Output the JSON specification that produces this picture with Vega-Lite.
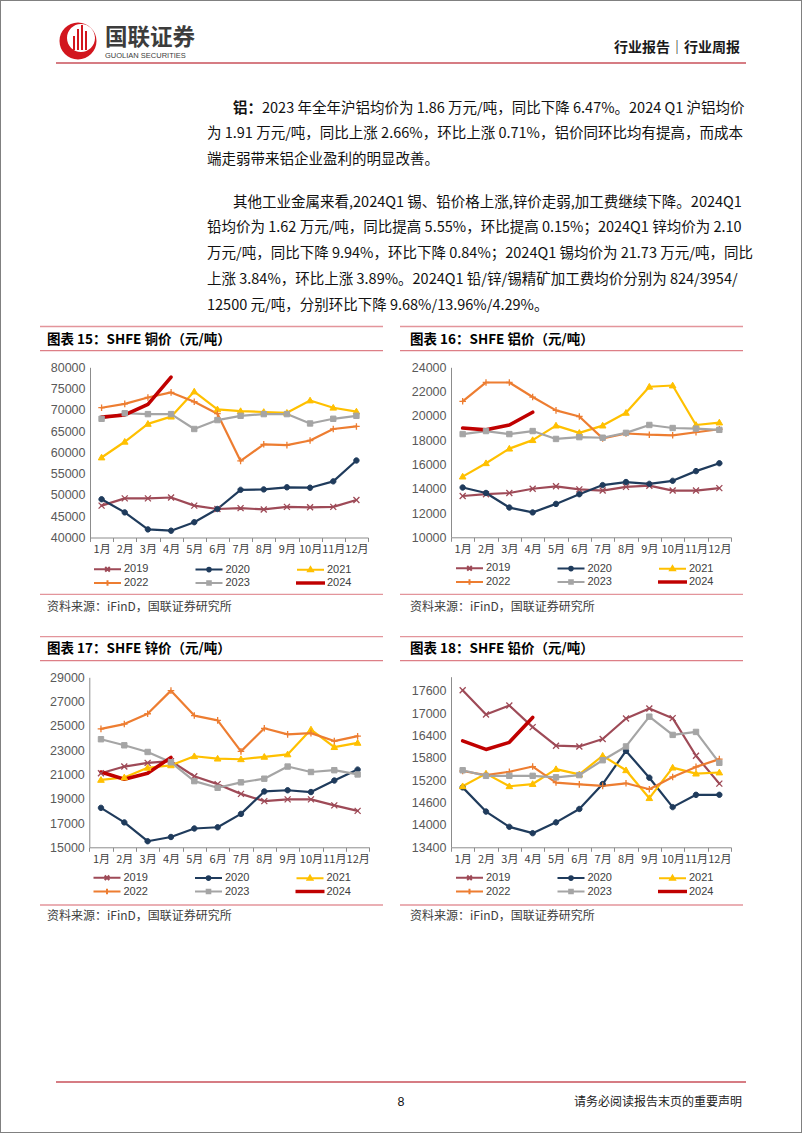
{
"$schema": "https://vega.github.io/schema/vega-lite/v6.json",
"width": 802, "height": 1133, "autosize": {"type": "none"}, "padding": 0,
"background": "white",
"config": {
 "view": {"stroke": "#808080", "strokeWidth": 2},
 "axis": {"grid": false},
 "legend": {"orient":"none","direction":"horizontal","columns":3,"gridAlign":"all","symbolSize":144,"symbolStrokeWidth":2,"symbolFillColor":"transparent","symbolStrokeColor":"transparent","labelFont":"Liberation Sans","labelFontSize":11,"labelColor":"#404040","labelOffset":9.5,"columnPadding":42.5,"rowPadding":-16,"padding":0}
},
"datasets": {
"prices": [
{"metal":"cu","m":"1月","2019":47500,"2020":49000,"2021":58800,"2022":70500,"2023":67900,"2024":68300},
{"metal":"cu","m":"2月","2019":49200,"2020":45900,"2021":62500,"2022":71400,"2023":69200,"2024":68800},
{"metal":"cu","m":"3月","2019":49200,"2020":41900,"2021":66700,"2022":72900,"2023":69000,"2024":71300},
{"metal":"cu","m":"4月","2019":49400,"2020":41600,"2021":68400,"2022":74100,"2023":69000,"2024":77700},
{"metal":"cu","m":"5月","2019":47500,"2020":43600,"2021":74300,"2022":71900,"2023":65500},
{"metal":"cu","m":"6月","2019":46700,"2020":46700,"2021":70100,"2022":69100,"2023":67600},
{"metal":"cu","m":"7月","2019":46900,"2020":51200,"2021":69700,"2022":58000,"2023":68600},
{"metal":"cu","m":"8月","2019":46600,"2020":51300,"2021":69500,"2022":61900,"2023":69000},
{"metal":"cu","m":"9月","2019":47200,"2020":51800,"2021":69300,"2022":61700,"2023":69000},
{"metal":"cu","m":"10月","2019":47100,"2020":51700,"2021":72200,"2022":62800,"2023":66800},
{"metal":"cu","m":"11月","2019":47200,"2020":53200,"2021":70500,"2022":65500,"2023":67900},
{"metal":"cu","m":"12月","2019":48800,"2020":58100,"2021":69600,"2022":66100,"2023":68600},
{"metal":"al","m":"1月","2019":13400,"2020":14100,"2021":15000,"2022":21200,"2023":18500,"2024":19000},
{"metal":"al","m":"2月","2019":13550,"2020":13650,"2021":16100,"2022":22750,"2023":18750,"2024":18850},
{"metal":"al","m":"3月","2019":13650,"2020":12450,"2021":17300,"2022":22750,"2023":18500,"2024":19250},
{"metal":"al","m":"4月","2019":14000,"2020":12050,"2021":18000,"2022":21550,"2023":18750,"2024":20300},
{"metal":"al","m":"5月","2019":14200,"2020":12750,"2021":19200,"2022":20450,"2023":18100},
{"metal":"al","m":"6月","2019":13950,"2020":13550,"2021":18600,"2022":19950,"2023":18250},
{"metal":"al","m":"7月","2019":13850,"2020":14300,"2021":19200,"2022":18150,"2023":18200},
{"metal":"al","m":"8月","2019":14150,"2020":14550,"2021":20250,"2022":18550,"2023":18600},
{"metal":"al","m":"9月","2019":14250,"2020":14400,"2021":22400,"2022":18450,"2023":19250},
{"metal":"al","m":"10月","2019":13850,"2020":14650,"2021":22500,"2022":18400,"2023":19000},
{"metal":"al","m":"11月","2019":13850,"2020":15450,"2021":19250,"2022":18650,"2023":18950},
{"metal":"al","m":"12月","2019":14050,"2020":16100,"2021":19450,"2022":18900,"2023":18850},
{"metal":"zn","m":"1月","2019":21100,"2020":18250,"2021":20550,"2022":24750,"2023":23900,"2024":21200},
{"metal":"zn","m":"2月","2019":21650,"2020":17050,"2021":20750,"2022":25150,"2023":23400,"2024":20600},
{"metal":"zn","m":"3月","2019":21950,"2020":15500,"2021":21550,"2022":26000,"2023":22850,"2024":21100},
{"metal":"zn","m":"4月","2019":22100,"2020":15850,"2021":21750,"2022":27900,"2023":22000,"2024":22400},
{"metal":"zn","m":"5月","2019":20850,"2020":16550,"2021":22500,"2022":25850,"2023":20450},
{"metal":"zn","m":"6月","2019":20200,"2020":16650,"2021":22300,"2022":25450,"2023":19900},
{"metal":"zn","m":"7月","2019":19400,"2020":17750,"2021":22250,"2022":22900,"2023":20350},
{"metal":"zn","m":"8月","2019":18800,"2020":19600,"2021":22450,"2022":24800,"2023":20650},
{"metal":"zn","m":"9月","2019":18950,"2020":19700,"2021":22650,"2022":24300,"2023":21650},
{"metal":"zn","m":"10月","2019":18950,"2020":19550,"2021":24700,"2022":24400,"2023":21200},
{"metal":"zn","m":"11月","2019":18450,"2020":20500,"2021":23250,"2022":23750,"2023":21350},
{"metal":"zn","m":"12月","2019":18000,"2020":21400,"2021":23600,"2022":24150,"2023":21000},
{"metal":"pb","m":"1月","2019":17620,"2020":15010,"2021":15040,"2022":15450,"2023":15470,"2024":16260},
{"metal":"pb","m":"2月","2019":16970,"2020":14360,"2021":15380,"2022":15340,"2023":15320,"2024":16030},
{"metal":"pb","m":"3月","2019":17210,"2020":13950,"2021":15040,"2022":15430,"2023":15320,"2024":16220},
{"metal":"pb","m":"4月","2019":16630,"2020":13780,"2021":15100,"2022":15570,"2023":15320,"2024":16890},
{"metal":"pb","m":"5月","2019":16130,"2020":14070,"2021":15500,"2022":15140,"2023":15280},
{"metal":"pb","m":"6月","2019":16110,"2020":14430,"2021":15360,"2022":15090,"2023":15340},
{"metal":"pb","m":"7月","2019":16310,"2020":15100,"2021":15860,"2022":15050,"2023":15740},
{"metal":"pb","m":"8月","2019":16860,"2020":15990,"2021":15470,"2022":15120,"2023":16110},
{"metal":"pb","m":"9月","2019":17130,"2020":15270,"2021":14720,"2022":14960,"2023":16910},
{"metal":"pb","m":"10月","2019":16870,"2020":14480,"2021":15540,"2022":15290,"2023":16420},
{"metal":"pb","m":"11月","2019":15860,"2020":14810,"2021":15380,"2022":15560,"2023":16500},
{"metal":"pb","m":"12月","2019":15110,"2020":14810,"2021":15410,"2022":15770,"2023":15670}
],
"panels": [
{"c":"L","r":"T","title":"图表 15：SHFE 铜价（元/吨）","src":"资料来源：iFinD，国联证券研究所"},
{"c":"R","r":"T","title":"图表 16：SHFE 铝价（元/吨）","src":"资料来源：iFinD，国联证券研究所"},
{"c":"L","r":"B","title":"图表 17：SHFE 锌价（元/吨）","src":"资料来源：iFinD，国联证券研究所"},
{"c":"R","r":"B","title":"图表 18：SHFE 铅价（元/吨）","src":"资料来源：iFinD，国联证券研究所"}
]
},
"layer": [
{
 "data": {"values": [{"zone":"head"},{"zone":"foot"}]},
 "mark": {"type":"rule","stroke":"#C8505A","strokeWidth":1.6},
 "encoding": {
  "x": {"datum":"L","type":"nominal","scale":{"type":"point","domain":["L","R"],"range":[56,746],"padding":0},"axis":null},
  "x2": {"datum":"R"},
  "y": {"field":"zone","type":"nominal","scale":{"type":"point","domain":["head","foot"],"range":[63,1082],"padding":0},"axis":null}
 }
},
{
 "data": {"values": [
  {"zone":"head","side":"L","role":"logo"},
  {"zone":"head","side":"L","role":"brand","text":"国联证券"},
  {"zone":"head","side":"L","role":"brand_en","text":"GUOLIAN SECURITIES"},
  {"zone":"head","side":"R","role":"kind","text":"行业报告｜行业周报"},
  {"zone":"foot","side":"C","role":"pageno","text":"8"},
  {"zone":"foot","side":"R","role":"note","text":"请务必阅读报告末页的重要声明"}
 ]},
 "encoding": {
  "x": {"field":"side","type":"nominal","scale":{"type":"point","domain":["L","C","R"],"range":[56,746],"padding":0},"axis":null},
  "y": {"field":"zone","type":"nominal","scale":{"type":"point","domain":["head","foot"],"range":[48,1102],"padding":0},"axis":null}
 },
 "layer": [
  {"transform":[{"filter":"datum.role == 'logo'"}],
   "mark":{"type":"point","filled":true,"size":4,"opacity":1,"fill":"#D2161E","strokeWidth":0,
   "shape":"M3.5,-7A18.5,18.5 0 1,0 40.5,-7A18.5,18.5 0 1,0 3.5,-7ZM11,-10A14,14 0 1,1 39,-10A14,14 0 1,1 11,-10Z"}},
  {"transform":[{"filter":"datum.role == 'logo'"}],
   "mark":{"type":"point","filled":true,"size":4,"opacity":1,"fill":"#D2161E","strokeWidth":0,
   "shape":"M17,2H19V-12H17ZM21,2H23V-19H21ZM25,2H27V-23H25ZM29,2H31V-17H29Z"}},
  {"transform":[{"filter":"datum.role == 'brand'"}],
   "mark":{"type":"text","align":"left","baseline":"middle","dx":49,"dy":-10,"font":"Noto Sans CJK SC","fontWeight":"bold","fontSize":22.5,"fill":"#3C3C3C"},
   "encoding":{"text":{"field":"text"}}},
  {"transform":[{"filter":"datum.role == 'brand_en'"}],
   "mark":{"type":"text","align":"left","baseline":"middle","dx":49,"dy":7.5,"font":"Liberation Sans","fontSize":7.5,"fill":"#3C3C3C"},
   "encoding":{"text":{"field":"text"}}},
  {"transform":[{"filter":"datum.role == 'kind'"}],
   "mark":{"type":"text","align":"right","baseline":"middle","dx":-6,"font":"Noto Sans CJK SC","fontWeight":"bold","fontSize":14,"fill":"#1A1A1A"},
   "encoding":{"text":{"field":"text"}}},
  {"transform":[{"filter":"datum.role == 'pageno'"}],
   "mark":{"type":"text","align":"center","baseline":"middle","font":"Liberation Sans","fontSize":12.5,"fill":"#111111"},
   "encoding":{"text":{"field":"text"}}},
  {"transform":[{"filter":"datum.role == 'note'"}],
   "mark":{"type":"text","align":"right","baseline":"middle","dx":-4,"font":"Noto Sans CJK SC","fontSize":12,"fill":"#222222"},
   "encoding":{"text":{"field":"text"}}}
 ]
},
{
 "data": {"values": [
  {"para":1,"role":"lead","text":"铝："},
  {"para":1,"role":"after","text":"2023 年全年沪铝均价为 1.86 万元/吨，同比下降 6.47%。2024 Q1 沪铝均价"},
  {"para":1,"role":"body","text":["为 1.91 万元/吨，同比上涨 2.66%，环比上涨 0.71%，铝价同环比均有提高，而成本","端走弱带来铝企业盈利的明显改善。"]},
  {"para":2,"role":"first","text":"其他工业金属来看,2024Q1 锡、铅价格上涨,锌价走弱,加工费继续下降。2024Q1"},
  {"para":2,"role":"body","text":["铅均价为 1.62 万元/吨，同比提高 5.55%，环比提高 0.15%；2024Q1 锌均价为 2.10","万元/吨，同比下降 9.94%，环比下降 0.84%；2024Q1 锡均价为 21.73 万元/吨，同比","上涨 3.84%，环比上涨 3.89%。2024Q1 铅/锌/锡精矿加工费均价分别为 824/3954/","12500 元/吨，分别环比下降 9.68%/13.96%/4.29%。"]}
 ]},
 "encoding": {
  "x": {"datum":"L","type":"nominal","scale":{"type":"point","domain":["L","R"],"range":[207,745],"padding":0},"axis":null},
  "y": {"field":"para","type":"quantitative","scale":{"domain":[1,2],"range":[101.5,195.5],"nice":false,"zero":false},"axis":null},
  "text": {"field":"text"}
 },
 "layer": [
  {"transform":[{"filter":"datum.role == 'lead'"}],
   "mark":{"type":"text","align":"left","baseline":"top","dx":26,"font":"Noto Sans CJK SC","fontWeight":"bold","fontSize":14.5,"fill":"#111111"}},
  {"transform":[{"filter":"datum.role == 'after'"}],
   "mark":{"type":"text","align":"left","baseline":"top","dx":55,"font":"Noto Sans CJK SC","fontSize":14.5,"fill":"#111111"}},
  {"transform":[{"filter":"datum.role == 'first'"}],
   "mark":{"type":"text","align":"left","baseline":"top","dx":26,"font":"Noto Sans CJK SC","fontSize":14.5,"fill":"#111111"}},
  {"transform":[{"filter":"datum.role == 'body'"}],
   "mark":{"type":"text","align":"left","baseline":"top","dy":25.8,"lineHeight":25.8,"font":"Noto Sans CJK SC","fontSize":14.5,"fill":"#111111"}}
 ]
},
{
 "data": {"name":"panels"},
 "mark": {"type":"text","align":"left","baseline":"middle","font":"Noto Sans CJK SC","fontWeight":"bold","fontSize":13.5,"fill":"#000000"},
 "encoding": {
  "x": {"field":"c","type":"nominal","scale":{"type":"point","domain":["L","R"],"range":[47,410],"padding":0},"axis":null},
  "y": {"field":"r","type":"nominal","scale":{"type":"point","domain":["T","B"],"range":[340,649.3],"padding":0},"axis":null},
  "text": {"field":"title"}
 }
},
{
 "data": {"name":"panels"},
 "mark": {"type":"text","align":"left","baseline":"middle","font":"Noto Sans CJK SC","fontSize":12,"fill":"#404040"},
 "encoding": {
  "x": {"field":"c","type":"nominal","scale":{"type":"point","domain":["L","R"],"range":[47,410],"padding":0},"axis":null},
  "y": {"field":"r","type":"nominal","scale":{"type":"point","domain":["T","B"],"range":[607,916],"padding":0},"axis":null},
  "text": {"field":"src"}
 }
},
{
 "data": {"name":"panels"},
 "mark": {"type":"rule","stroke":"#E3959B","strokeWidth":1.3,"x2Offset":343},
 "encoding": {
  "x": {"field":"c","type":"nominal","scale":{"type":"point","domain":["L","R"],"range":[40,400],"padding":0},"axis":null},
  "x2": {"field":"c"},
  "y": {"field":"r","type":"nominal","scale":{"type":"point","domain":["T","B"],"range":[326.5,636.7],"padding":0},"axis":null}
 }
},
{
 "data": {"name":"panels"},
 "mark": {"type":"rule","stroke":"#DD7F87","strokeWidth":1.3,"x2Offset":343},
 "encoding": {
  "x": {"field":"c","type":"nominal","scale":{"type":"point","domain":["L","R"],"range":[40,400],"padding":0},"axis":null},
  "x2": {"field":"c"},
  "y": {"field":"r","type":"nominal","scale":{"type":"point","domain":["T","B"],"range":[350.7,660.7],"padding":0},"axis":null}
 }
},
{
 "data": {"name":"panels"},
 "mark": {"type":"rule","stroke":"#E3959B","strokeWidth":1.3,"x2Offset":343},
 "encoding": {
  "x": {"field":"c","type":"nominal","scale":{"type":"point","domain":["L","R"],"range":[40,400],"padding":0},"axis":null},
  "x2": {"field":"c"},
  "y": {"field":"r","type":"nominal","scale":{"type":"point","domain":["T","B"],"range":[594.3,905],"padding":0},"axis":null}
 }
},
{
 "data": {"name":"prices"},
 "transform": [{"filter":"datum.metal == 'cu'"},{"fold":["2019","2020","2021","2022","2023","2024"],"as":["year","v"]},{"filter":"isValid(datum.v)"}],
 "encoding": {
  "x": {"field":"m","type":"ordinal","sort":null,"scale":{"type":"band","domain":["1月","2月","3月","4月","5月","6月","7月","8月","9月","10月","11月","12月"],"range":[90,368],"paddingInner":0,"paddingOuter":0},
   "axis":{"orient":"bottom","offset":-595.5,"title":null,"labelAngle":0,"tickBand":"extent","tickSize":4,"labelPadding":2,"labelFont":"Noto Sans CJK SC","labelFontSize":11,"labelColor":"#404040","domainColor":"#8C8C8C","tickColor":"#8C8C8C"}},
  "y": {"field":"v","type":"quantitative","scale":{"domain":[40000,80000],"range":[537.5,367.3],"nice":false,"zero":false},
   "axis":{"orient":"left","offset":-90,"title":null,"values":[40000,45000,50000,55000,60000,65000,70000,75000,80000],"format":"d","ticks":false,"tickSize":0,"labelPadding":5,"labelFont":"Liberation Sans","labelFontSize":12.5,"labelColor":"#595959","domainColor":"#8C8C8C"}}
 },
 "layer": [
  {"transform":[{"filter":"datum.year != '2024'"}],"mark":{"type":"line","strokeWidth":2.2,"strokeJoin":"round","strokeCap":"round"},
   "encoding":{"stroke":{"field":"year","type":"nominal","scale":{"domain":["2019","2020","2021","2022","2023","2024"],"range":["#9E4A57","#1F3B5C","#FFC000","#ED7D31","#A5A5A5","#C00000"]}}}},
  {"transform":[{"filter":"datum.year == '2024'"}],"mark":{"type":"line","strokeWidth":3.6,"strokeJoin":"round","strokeCap":"round"},"encoding":{"stroke":{"field":"year","type":"nominal"}}},
  {"transform":[{"filter":"datum.year == '2019'"}],"mark":{"type":"point","shape":"M-1,-1L1,1M-1,1L1,-1","size":36,"strokeWidth":1.3,"opacity":1},"encoding":{"stroke":{"field":"year","type":"nominal"}}},
  {"transform":[{"filter":"datum.year == '2020'"}],"mark":{"type":"point","shape":"M-0.9,0A0.9,0.9 0 1,0 0.9,0A0.9,0.9 0 1,0 -0.9,0Z","size":36,"strokeWidth":1,"opacity":1},"encoding":{"stroke":{"field":"year","type":"nominal"},"fill":{"field":"year","type":"nominal"}}},
  {"transform":[{"filter":"datum.year == '2021'"}],"mark":{"type":"point","shape":"M0,-1.1L1.1,0.8L-1.1,0.8Z","size":36,"strokeWidth":1,"opacity":1},"encoding":{"stroke":{"field":"year","type":"nominal"},"fill":{"field":"year","type":"nominal"}}},
  {"transform":[{"filter":"datum.year == '2022'"}],"mark":{"type":"point","shape":"M-1.1,0H1.1M0,-1.1V1.1","size":36,"strokeWidth":1.3,"opacity":1},"encoding":{"stroke":{"field":"year","type":"nominal"}}},
  {"transform":[{"filter":"datum.year == '2023'"}],"mark":{"type":"point","shape":"M-0.9,-0.9H0.9V0.9H-0.9Z","size":36,"strokeWidth":1,"opacity":1},"encoding":{"stroke":{"field":"year","type":"nominal"},"fill":{"field":"year","type":"nominal"}}},
  {"transform":[{"filter":"false"}],"mark":{"type":"point","filled":true,"opacity":1},
   "encoding":{
    "shape":{"field":"year","type":"nominal","scale":{"domain":["2019","2020","2021","2022","2023","2024"],"range":["M-2.25,0H2.25M-0.38,-0.38L0.38,0.38M-0.38,0.38L0.38,-0.38","M-2.25,0H2.25M-0.3,0A0.3,0.3 0 1,0 0.3,0A0.3,0.3 0 1,0 -0.3,0Z","M-2.25,0H2.25M0,-0.4L0.4,0.28L-0.4,0.28Z","M-2.25,0H2.25M0,-0.45V0.45","M-2.25,0H2.25M-0.3,-0.3H0.3V0.3H-0.3Z","M-2.25,-0.12H2.25V0.12H-2.25Z"]},
     "legend":{"title":null,"legendX":100.5,"legendY":562}},
    "fill":{"field":"year","type":"nominal","scale":{"domain":["2019","2020","2021","2022","2023","2024"],"range":["#9E4A57","#1F3B5C","#FFC000","#ED7D31","#A5A5A5","#C00000"]},"legend":{"title":null,"legendX":100.5,"legendY":562}},
    "stroke":{"field":"year","type":"nominal","legend":{"title":null,"legendX":100.5,"legendY":562}}}}
 ]
},
{
 "data": {"name":"prices"},
 "transform": [{"filter":"datum.metal == 'al'"},{"fold":["2019","2020","2021","2022","2023","2024"],"as":["year","v"]},{"filter":"isValid(datum.v)"}],
 "encoding": {
  "x": {"field":"m","type":"ordinal","sort":null,"scale":{"type":"band","domain":["1月","2月","3月","4月","5月","6月","7月","8月","9月","10月","11月","12月"],"range":[451,731],"paddingInner":0,"paddingOuter":0},
   "axis":{"orient":"bottom","offset":-595.7,"title":null,"labelAngle":0,"tickBand":"extent","tickSize":4,"labelPadding":2,"labelFont":"Noto Sans CJK SC","labelFontSize":11,"labelColor":"#404040","domainColor":"#8C8C8C","tickColor":"#8C8C8C"}},
  "y": {"field":"v","type":"quantitative","scale":{"domain":[10000,24000],"range":[537.3,367.3],"nice":false,"zero":false},
   "axis":{"orient":"left","offset":-451,"title":null,"values":[10000,12000,14000,16000,18000,20000,22000,24000],"format":"d","ticks":false,"tickSize":0,"labelPadding":5,"labelFont":"Liberation Sans","labelFontSize":12.5,"labelColor":"#595959","domainColor":"#8C8C8C"}}
 },
 "layer": [
  {"transform":[{"filter":"datum.year != '2024'"}],"mark":{"type":"line","strokeWidth":2.2,"strokeJoin":"round","strokeCap":"round"},
   "encoding":{"stroke":{"field":"year","type":"nominal","scale":{"domain":["2019","2020","2021","2022","2023","2024"],"range":["#9E4A57","#1F3B5C","#FFC000","#ED7D31","#A5A5A5","#C00000"]}}}},
  {"transform":[{"filter":"datum.year == '2024'"}],"mark":{"type":"line","strokeWidth":3.6,"strokeJoin":"round","strokeCap":"round"},"encoding":{"stroke":{"field":"year","type":"nominal"}}},
  {"transform":[{"filter":"datum.year == '2019'"}],"mark":{"type":"point","shape":"M-1,-1L1,1M-1,1L1,-1","size":36,"strokeWidth":1.3,"opacity":1},"encoding":{"stroke":{"field":"year","type":"nominal"}}},
  {"transform":[{"filter":"datum.year == '2020'"}],"mark":{"type":"point","shape":"M-0.9,0A0.9,0.9 0 1,0 0.9,0A0.9,0.9 0 1,0 -0.9,0Z","size":36,"strokeWidth":1,"opacity":1},"encoding":{"stroke":{"field":"year","type":"nominal"},"fill":{"field":"year","type":"nominal"}}},
  {"transform":[{"filter":"datum.year == '2021'"}],"mark":{"type":"point","shape":"M0,-1.1L1.1,0.8L-1.1,0.8Z","size":36,"strokeWidth":1,"opacity":1},"encoding":{"stroke":{"field":"year","type":"nominal"},"fill":{"field":"year","type":"nominal"}}},
  {"transform":[{"filter":"datum.year == '2022'"}],"mark":{"type":"point","shape":"M-1.1,0H1.1M0,-1.1V1.1","size":36,"strokeWidth":1.3,"opacity":1},"encoding":{"stroke":{"field":"year","type":"nominal"}}},
  {"transform":[{"filter":"datum.year == '2023'"}],"mark":{"type":"point","shape":"M-0.9,-0.9H0.9V0.9H-0.9Z","size":36,"strokeWidth":1,"opacity":1},"encoding":{"stroke":{"field":"year","type":"nominal"},"fill":{"field":"year","type":"nominal"}}},
  {"transform":[{"filter":"false"}],"mark":{"type":"point","filled":true,"opacity":1},
   "encoding":{
    "shape":{"field":"year","type":"nominal","scale":{"domain":["2019","2020","2021","2022","2023","2024"],"range":["M-2.25,0H2.25M-0.38,-0.38L0.38,0.38M-0.38,0.38L0.38,-0.38","M-2.25,0H2.25M-0.3,0A0.3,0.3 0 1,0 0.3,0A0.3,0.3 0 1,0 -0.3,0Z","M-2.25,0H2.25M0,-0.4L0.4,0.28L-0.4,0.28Z","M-2.25,0H2.25M0,-0.45V0.45","M-2.25,0H2.25M-0.3,-0.3H0.3V0.3H-0.3Z","M-2.25,-0.12H2.25V0.12H-2.25Z"]},
     "legend":{"title":null,"legendX":462.5,"legendY":561}},
    "fill":{"field":"year","type":"nominal","scale":{"domain":["2019","2020","2021","2022","2023","2024"],"range":["#9E4A57","#1F3B5C","#FFC000","#ED7D31","#A5A5A5","#C00000"]},"legend":{"title":null,"legendX":462.5,"legendY":561}},
    "stroke":{"field":"year","type":"nominal","legend":{"title":null,"legendX":462.5,"legendY":561}}}}
 ]
},
{
 "data": {"name":"prices"},
 "transform": [{"filter":"datum.metal == 'zn'"},{"fold":["2019","2020","2021","2022","2023","2024"],"as":["year","v"]},{"filter":"isValid(datum.v)"}],
 "encoding": {
  "x": {"field":"m","type":"ordinal","sort":null,"scale":{"type":"band","domain":["1月","2月","3月","4月","5月","6月","7月","8月","9月","10月","11月","12月"],"range":[89.3,369.3],"paddingInner":0,"paddingOuter":0},
   "axis":{"orient":"bottom","offset":-285.7,"title":null,"labelAngle":0,"tickBand":"extent","tickSize":4,"labelPadding":2,"labelFont":"Noto Sans CJK SC","labelFontSize":11,"labelColor":"#404040","domainColor":"#8C8C8C","tickColor":"#8C8C8C"}},
  "y": {"field":"v","type":"quantitative","scale":{"domain":[15000,29000],"range":[847.3,677.3],"nice":false,"zero":false},
   "axis":{"orient":"left","offset":-89.3,"title":null,"values":[15000,17000,19000,21000,23000,25000,27000,29000],"format":"d","ticks":false,"tickSize":0,"labelPadding":5,"labelFont":"Liberation Sans","labelFontSize":12.5,"labelColor":"#595959","domainColor":"#8C8C8C"}}
 },
 "layer": [
  {"transform":[{"filter":"datum.year != '2024'"}],"mark":{"type":"line","strokeWidth":2.2,"strokeJoin":"round","strokeCap":"round"},
   "encoding":{"stroke":{"field":"year","type":"nominal","scale":{"domain":["2019","2020","2021","2022","2023","2024"],"range":["#9E4A57","#1F3B5C","#FFC000","#ED7D31","#A5A5A5","#C00000"]}}}},
  {"transform":[{"filter":"datum.year == '2024'"}],"mark":{"type":"line","strokeWidth":3.6,"strokeJoin":"round","strokeCap":"round"},"encoding":{"stroke":{"field":"year","type":"nominal"}}},
  {"transform":[{"filter":"datum.year == '2019'"}],"mark":{"type":"point","shape":"M-1,-1L1,1M-1,1L1,-1","size":36,"strokeWidth":1.3,"opacity":1},"encoding":{"stroke":{"field":"year","type":"nominal"}}},
  {"transform":[{"filter":"datum.year == '2020'"}],"mark":{"type":"point","shape":"M-0.9,0A0.9,0.9 0 1,0 0.9,0A0.9,0.9 0 1,0 -0.9,0Z","size":36,"strokeWidth":1,"opacity":1},"encoding":{"stroke":{"field":"year","type":"nominal"},"fill":{"field":"year","type":"nominal"}}},
  {"transform":[{"filter":"datum.year == '2021'"}],"mark":{"type":"point","shape":"M0,-1.1L1.1,0.8L-1.1,0.8Z","size":36,"strokeWidth":1,"opacity":1},"encoding":{"stroke":{"field":"year","type":"nominal"},"fill":{"field":"year","type":"nominal"}}},
  {"transform":[{"filter":"datum.year == '2022'"}],"mark":{"type":"point","shape":"M-1.1,0H1.1M0,-1.1V1.1","size":36,"strokeWidth":1.3,"opacity":1},"encoding":{"stroke":{"field":"year","type":"nominal"}}},
  {"transform":[{"filter":"datum.year == '2023'"}],"mark":{"type":"point","shape":"M-0.9,-0.9H0.9V0.9H-0.9Z","size":36,"strokeWidth":1,"opacity":1},"encoding":{"stroke":{"field":"year","type":"nominal"},"fill":{"field":"year","type":"nominal"}}},
  {"transform":[{"filter":"false"}],"mark":{"type":"point","filled":true,"opacity":1},
   "encoding":{
    "shape":{"field":"year","type":"nominal","scale":{"domain":["2019","2020","2021","2022","2023","2024"],"range":["M-2.25,0H2.25M-0.38,-0.38L0.38,0.38M-0.38,0.38L0.38,-0.38","M-2.25,0H2.25M-0.3,0A0.3,0.3 0 1,0 0.3,0A0.3,0.3 0 1,0 -0.3,0Z","M-2.25,0H2.25M0,-0.4L0.4,0.28L-0.4,0.28Z","M-2.25,0H2.25M0,-0.45V0.45","M-2.25,0H2.25M-0.3,-0.3H0.3V0.3H-0.3Z","M-2.25,-0.12H2.25V0.12H-2.25Z"]},
     "legend":{"title":null,"legendX":100,"legendY":870.5}},
    "fill":{"field":"year","type":"nominal","scale":{"domain":["2019","2020","2021","2022","2023","2024"],"range":["#9E4A57","#1F3B5C","#FFC000","#ED7D31","#A5A5A5","#C00000"]},"legend":{"title":null,"legendX":100,"legendY":870.5}},
    "stroke":{"field":"year","type":"nominal","legend":{"title":null,"legendX":100,"legendY":870.5}}}}
 ]
},
{
 "data": {"name":"prices"},
 "transform": [{"filter":"datum.metal == 'pb'"},{"fold":["2019","2020","2021","2022","2023","2024"],"as":["year","v"]},{"filter":"isValid(datum.v)"}],
 "encoding": {
  "x": {"field":"m","type":"ordinal","sort":null,"scale":{"type":"band","domain":["1月","2月","3月","4月","5月","6月","7月","8月","9月","10月","11月","12月"],"range":[451,731],"paddingInner":0,"paddingOuter":0},
   "axis":{"orient":"bottom","offset":-285.7,"title":null,"labelAngle":0,"tickBand":"extent","tickSize":4,"labelPadding":2,"labelFont":"Noto Sans CJK SC","labelFontSize":11,"labelColor":"#404040","domainColor":"#8C8C8C","tickColor":"#8C8C8C"}},
  "y": {"field":"v","type":"quantitative","scale":{"domain":[13400,17984],"range":[847.3,676.7],"nice":false,"zero":false},
   "axis":{"orient":"left","offset":-451,"title":null,"values":[13400,14000,14600,15200,15800,16400,17000,17600],"format":"d","ticks":false,"tickSize":0,"labelPadding":5,"labelFont":"Liberation Sans","labelFontSize":12.5,"labelColor":"#595959","domainColor":"#8C8C8C"}}
 },
 "layer": [
  {"transform":[{"filter":"datum.year != '2024'"}],"mark":{"type":"line","strokeWidth":2.2,"strokeJoin":"round","strokeCap":"round"},
   "encoding":{"stroke":{"field":"year","type":"nominal","scale":{"domain":["2019","2020","2021","2022","2023","2024"],"range":["#9E4A57","#1F3B5C","#FFC000","#ED7D31","#A5A5A5","#C00000"]}}}},
  {"transform":[{"filter":"datum.year == '2024'"}],"mark":{"type":"line","strokeWidth":3.6,"strokeJoin":"round","strokeCap":"round"},"encoding":{"stroke":{"field":"year","type":"nominal"}}},
  {"transform":[{"filter":"datum.year == '2019'"}],"mark":{"type":"point","shape":"M-1,-1L1,1M-1,1L1,-1","size":36,"strokeWidth":1.3,"opacity":1},"encoding":{"stroke":{"field":"year","type":"nominal"}}},
  {"transform":[{"filter":"datum.year == '2020'"}],"mark":{"type":"point","shape":"M-0.9,0A0.9,0.9 0 1,0 0.9,0A0.9,0.9 0 1,0 -0.9,0Z","size":36,"strokeWidth":1,"opacity":1},"encoding":{"stroke":{"field":"year","type":"nominal"},"fill":{"field":"year","type":"nominal"}}},
  {"transform":[{"filter":"datum.year == '2021'"}],"mark":{"type":"point","shape":"M0,-1.1L1.1,0.8L-1.1,0.8Z","size":36,"strokeWidth":1,"opacity":1},"encoding":{"stroke":{"field":"year","type":"nominal"},"fill":{"field":"year","type":"nominal"}}},
  {"transform":[{"filter":"datum.year == '2022'"}],"mark":{"type":"point","shape":"M-1.1,0H1.1M0,-1.1V1.1","size":36,"strokeWidth":1.3,"opacity":1},"encoding":{"stroke":{"field":"year","type":"nominal"}}},
  {"transform":[{"filter":"datum.year == '2023'"}],"mark":{"type":"point","shape":"M-0.9,-0.9H0.9V0.9H-0.9Z","size":36,"strokeWidth":1,"opacity":1},"encoding":{"stroke":{"field":"year","type":"nominal"},"fill":{"field":"year","type":"nominal"}}},
  {"transform":[{"filter":"false"}],"mark":{"type":"point","filled":true,"opacity":1},
   "encoding":{
    "shape":{"field":"year","type":"nominal","scale":{"domain":["2019","2020","2021","2022","2023","2024"],"range":["M-2.25,0H2.25M-0.38,-0.38L0.38,0.38M-0.38,0.38L0.38,-0.38","M-2.25,0H2.25M-0.3,0A0.3,0.3 0 1,0 0.3,0A0.3,0.3 0 1,0 -0.3,0Z","M-2.25,0H2.25M0,-0.4L0.4,0.28L-0.4,0.28Z","M-2.25,0H2.25M0,-0.45V0.45","M-2.25,0H2.25M-0.3,-0.3H0.3V0.3H-0.3Z","M-2.25,-0.12H2.25V0.12H-2.25Z"]},
     "legend":{"title":null,"legendX":462.5,"legendY":870.5}},
    "fill":{"field":"year","type":"nominal","scale":{"domain":["2019","2020","2021","2022","2023","2024"],"range":["#9E4A57","#1F3B5C","#FFC000","#ED7D31","#A5A5A5","#C00000"]},"legend":{"title":null,"legendX":462.5,"legendY":870.5}},
    "stroke":{"field":"year","type":"nominal","legend":{"title":null,"legendX":462.5,"legendY":870.5}}}}
 ]
}
],
"resolve": {
 "scale": {"x":"independent","y":"independent","stroke":"independent","fill":"independent","shape":"independent"},
 "axis": {"x":"independent","y":"independent"},
 "legend": {"stroke":"independent","fill":"independent","shape":"independent"}
}
}
